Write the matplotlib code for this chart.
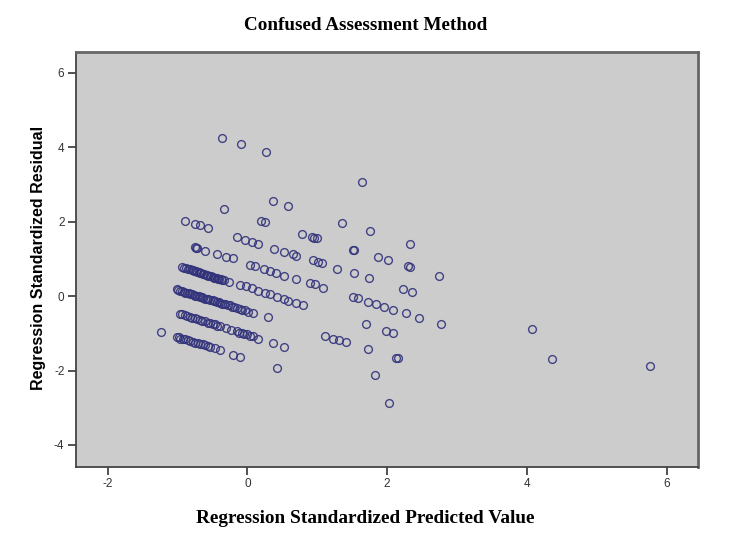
import matplotlib
matplotlib.use("Agg")
import matplotlib.pyplot as plt

title = "Confused Assessment Method"
xlabel = "Regression Standardized Predicted Value"
ylabel = "Regression Standardized Residual"
xticks = [-2, 0, 2, 4, 6]
yticks = [-4, -2, 0, 2, 4, 6]

# scattered points (predicted, residual)
pred_a = [-0.37, -0.09, 0.27, 1.64, 0.37, 0.58, -0.33,
          -0.89, -0.75, -0.68, -0.57, 0.19, 0.25, 1.36, 1.75,
          0.78, 0.93, 0.96, 0.99, -0.15, -0.04, 0.06, 0.15, 2.33,
          0.38, 0.52, 0.65, 0.69, -0.75, -0.73, -0.72, -0.61,
          -0.43, -0.30, -0.21, 1.51, 1.53, 1.87, 2.01, 2.30, 2.32,
          0.94, 1.01, 1.07, 1.28, 1.52, 1.74, 2.74,
          0.04, 0.11, 0.24, 0.32, 0.41, 0.52, 0.70, 0.89, 0.97, 1.08,
          2.23, 2.35]
resid_a = [4.26, 4.09, 3.88, 3.08, 2.55, 2.43, 2.33,
           2.02, 1.93, 1.90, 1.83, 2.03, 1.99, 1.97, 1.75,
           1.67, 1.58, 1.57, 1.56, 1.58, 1.52, 1.46, 1.40, 1.40,
           1.27, 1.18, 1.13, 1.09, 1.31, 1.30, 1.29, 1.22,
           1.12, 1.06, 1.02, 1.24, 1.23, 1.04, 0.96, 0.80, 0.79,
           0.96, 0.91, 0.88, 0.74, 0.61, 0.48, 0.53,
           0.83, 0.81, 0.72, 0.68, 0.63, 0.55, 0.45, 0.36, 0.32, 0.23,
           0.19, 0.12]

# band around 0.8 .. -0.8
pred_b = [-0.94, -0.91, -0.88, -0.85, -0.82, -0.80, -0.78, -0.76, -0.74, -0.72,
          -0.70, -0.68, -0.66, -0.64, -0.62, -0.60, -0.58, -0.56, -0.54, -0.52,
          -0.50, -0.48, -0.46, -0.44, -0.42, -0.40, -0.38, -0.36, -0.33, -0.27,
          -0.11, -0.02, 0.06, 0.15, 0.25, 0.32, 0.42, 0.52, 0.58, 0.70, 0.80,
          1.51, 1.58, 1.72, 1.84, 1.96, 2.09, 2.27, 2.45, 2.77,
          1.70, 1.99, 2.08]
resid_b = [0.79, 0.76, 0.75, 0.73, 0.72, 0.70, 0.69, 0.67, 0.67, 0.65,
           0.64, 0.63, 0.62, 0.60, 0.59, 0.58, 0.57, 0.55, 0.55, 0.53,
           0.52, 0.50, 0.50, 0.48, 0.47, 0.45, 0.45, 0.43, 0.42, 0.38,
           0.30, 0.27, 0.21, 0.14, 0.09, 0.05, -0.02, -0.09, -0.13, -0.18, -0.24,
           -0.03, -0.06, -0.15, -0.21, -0.29, -0.36, -0.46, -0.58, -0.76,
           -0.76, -0.93, -0.99]

# band around 0.2 .. -0.6
pred_c = [-1.01, -0.99, -0.96, -0.93, -0.91, -0.89, -0.86, -0.84, -0.82, -0.79,
          -0.77, -0.75, -0.72, -0.70, -0.68, -0.65, -0.63, -0.61, -0.58, -0.56,
          -0.54, -0.50, -0.48, -0.46, -0.43, -0.41, -0.39, -0.36, -0.34, -0.32,
          -0.28, -0.25, -0.22, -0.19, -0.15, -0.11, -0.08, -0.04, 0.01, 0.08, 0.29,
          1.11, 1.23, 1.31, 1.41, 1.72, 2.13, 2.15]
resid_c = [0.18, 0.17, 0.14, 0.13, 0.12, 0.09, 0.09, 0.08, 0.05, 0.05,
           0.04, 0.01, 0.01, 0.00, -0.03, -0.03, -0.04, -0.08, -0.07, -0.08,
           -0.11, -0.11, -0.13, -0.14, -0.16, -0.17, -0.18, -0.20, -0.21, -0.21,
           -0.24, -0.25, -0.28, -0.30, -0.32, -0.35, -0.36, -0.38, -0.42, -0.45, -0.57,
           -1.07, -1.14, -1.18, -1.24, -1.41, -1.65, -1.67]

# band around -0.5 .. -1.2
pred_d = [-0.97, -0.93, -0.89, -0.86, -0.82, -0.79, -0.75, -0.72, -0.68, -0.65,
          -0.61, -0.57, -0.54, -0.50, -0.46, -0.43, -0.39,
          -0.30, -0.23, -0.15, -0.12, -0.08, -0.05, -0.01, 0.03, 0.08, 0.15,
          0.36, 0.53, 1.83, -1.24]
resid_d = [-0.47, -0.49, -0.51, -0.54, -0.56, -0.58, -0.60, -0.62, -0.64, -0.66,
           -0.68, -0.71, -0.73, -0.75, -0.76, -0.79, -0.81,
           -0.87, -0.90, -0.94, -0.98, -0.99, -1.02, -1.03, -1.06, -1.07, -1.14,
           -1.25, -1.36, -2.12, -0.96]

# band around -1.1 .. -1.6
pred_e = [-1.01, -0.98, -0.96, -0.92, -0.89, -0.85, -0.82, -0.78, -0.75, -0.71,
          -0.68, -0.64, -0.61, -0.57, -0.54, -0.46, -0.39, -0.20, -0.10, 0.42, 2.03]
resid_e = [-1.09, -1.11, -1.14, -1.14, -1.16, -1.18, -1.20, -1.22, -1.25, -1.26,
           -1.29, -1.30, -1.32, -1.34, -1.36, -1.40, -1.45, -1.57, -1.63, -1.92, -2.87]

# outlying high predicted values
pred_f = [4.07, 4.36, 5.76]
resid_f = [-0.89, -1.69, -1.87]

pred = pred_a + pred_b + pred_c + pred_d + pred_e + pred_f
resid = resid_a + resid_b + resid_c + resid_d + resid_e + resid_f

fig = plt.figure(figsize=(7.5, 5.46), dpi=100)
ax = fig.add_axes([0.1017, 0.1456, 0.829, 0.759])
ax.set_facecolor("#cccccc")
ax.plot(pred, resid, linestyle="none", marker="o", markersize=5.6,
        markerfacecolor="none", markeredgecolor="#33337c", markeredgewidth=1.0,
        alpha=0.9)
ax.set_xlim(-2.45, 6.45)
ax.set_ylim(-4.58, 6.56)
ax.set_xticks(xticks)
ax.set_yticks(yticks)
ax.set_xticklabels([str(t) for t in xticks])
ax.set_yticklabels([str(t) for t in yticks])
ax.tick_params(axis="both", direction="out", length=5.5, width=1.2,
               color="#333333", labelsize=8.5, labelcolor="#333333", pad=3)
for lab in ax.get_xticklabels() + ax.get_yticklabels():
    lab.set_fontfamily("Liberation Sans")
for s in ["left", "bottom"]:
    ax.spines[s].set_color("#444444")
    ax.spines[s].set_linewidth(1.3)
for s in ["top", "right"]:
    ax.spines[s].set_color("#666666")
    ax.spines[s].set_linewidth(2.0)

fig.text(0.487, 0.954, title, ha="center", va="center",
         fontfamily="Liberation Serif", fontweight="bold", fontsize=13.8)
fig.text(0.487, 0.051, xlabel, ha="center", va="center",
         fontfamily="Liberation Serif", fontweight="bold", fontsize=13.9)
fig.text(0.051, 0.527, ylabel, ha="center", va="center", rotation=90,
         fontfamily="Liberation Sans", fontweight="bold", fontsize=11.5)

fig.savefig("out.png", dpi=100, facecolor="white")
